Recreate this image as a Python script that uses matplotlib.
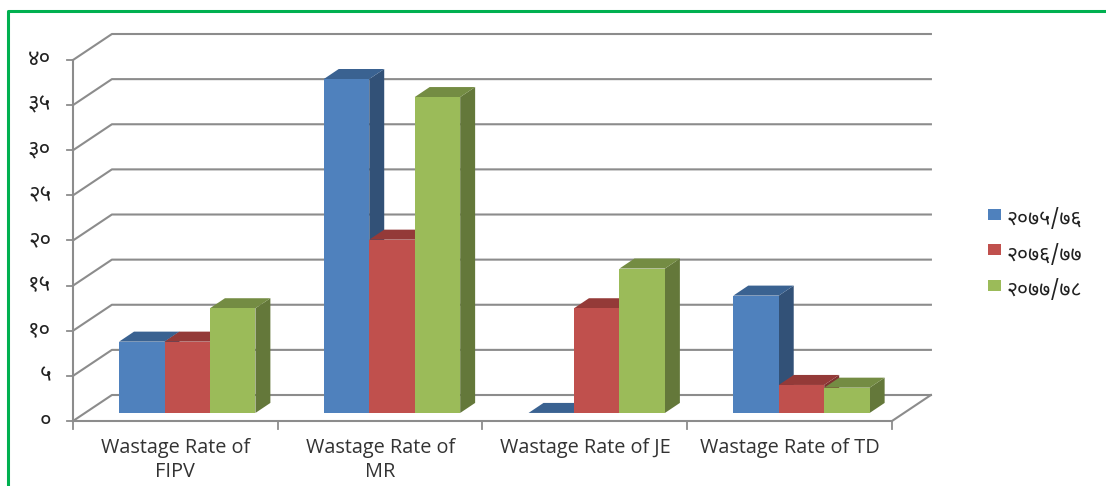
#!/usr/bin/env python3
"""Wastage rate by vaccine, drawn as clustered bars with a 3D look."""

import matplotlib
matplotlib.use('Agg')
import matplotlib.pyplot as plt
from matplotlib.patches import Polygon, Rectangle

categories = ['Wastage Rate of\nFIPV', 'Wastage Rate of\nMR',
              'Wastage Rate of JE', 'Wastage Rate of TD']
series_names = ['२०७५/७६', '२०७६/७७', '२०७७/७८']
values_7576 = [7.9, 37.0, 0.0, 13.0]
values_7677 = [7.9, 19.2, 11.6, 3.1]
values_7778 = [11.6, 35.0, 16.0, 2.8]
y_ticks = [0, 5, 10, 15, 20, 25, 30, 35, 40]
y_tick_labels = ['०', '५', '१०', '१५', '२०', '२५', '३०', '३५', '४०']

FRONT = ['#4F81BD', '#C0504D', '#9BBB59']
TOP = ['#3A6291', '#943A38', '#748C43']
SIDE = ['#325177', '#7E3230', '#64783A']
GRID = '#8C8C8C'
TEXT = '#333333'
DEVANAGARI = ['Noto Sans Devanagari', 'Hind', 'Mukta', 'Poppins', 'DejaVu Sans']

# depth of the floor and of each bar, in data units
WALL_DX, WALL_DY = 0.19, 2.88
BAR_DX, BAR_DY = 0.073, 1.11
BAR_W = 0.222

W, H = 1106, 486
fig = plt.figure(figsize=(W / 100, H / 100), dpi=100)
ax = fig.add_axes([73 / W, 1 - 421 / H, 819 / W, 361 / H])
ax.set_xlim(0, 4)
ax.set_ylim(0, 40)
ax.axis('off')

# back wall gridlines and their slanted floor-to-wall runs
for t in y_ticks:
    ax.plot([0, WALL_DX, 4 + WALL_DX], [t, t + WALL_DY, t + WALL_DY],
            color=GRID, lw=1.5, clip_on=False, zorder=1)
ax.plot([4, 4 + WALL_DX], [0, WALL_DY], color=GRID, lw=1.5, clip_on=False, zorder=1)

# axis lines and tick marks
ax.plot([0, 0], [0, 40], color=GRID, lw=1.5, clip_on=False, zorder=2)
ax.plot([0, 4], [0, 0], color=GRID, lw=1.5, clip_on=False, zorder=2)
for t, lab in zip(y_ticks, y_tick_labels):
    ax.plot([-0.03, 0], [t, t], color=GRID, lw=1.3, clip_on=False)
    ax.text(-0.107, t, lab, ha='right', va='center', fontsize=16, color='#222222',
            family=DEVANAGARI, fontweight='medium')
for i in range(5):
    ax.plot([i, i], [0, -0.9], color=GRID, lw=1.3, clip_on=False)

# bars: front face, then top and side faces pushed back by the bar depth
all_values = [values_7576, values_7677, values_7778]
base = WALL_DY * 0.31
for j in range(4):
    left = j + 0.5 - 1.5 * BAR_W + 0.058
    for k, vals in enumerate(all_values):
        x0 = left + k * BAR_W
        x1 = x0 + BAR_W
        top = vals[j] + base
        z = 3 + k
        ax.add_patch(Polygon([(x1, base), (x1 + BAR_DX, base + BAR_DY),
                              (x1 + BAR_DX, top + BAR_DY), (x1, top)],
                             fc=SIDE[k], ec='none', zorder=z))
        ax.add_patch(Polygon([(x0, top), (x0 + BAR_DX, top + BAR_DY),
                              (x1 + BAR_DX, top + BAR_DY), (x1, top)],
                             fc=TOP[k], ec='none', zorder=z))
        if vals[j] > 0:
            ax.add_patch(Rectangle((x0, base), BAR_W, vals[j],
                                   fc=FRONT[k], ec='none', zorder=z + 0.5))

for i, cat in enumerate(categories):
    ax.text(i + 0.5, -1.9, cat, ha='center', va='top', fontsize=14.3,
            color=TEXT, family='Open Sans', linespacing=1.25)

# legend
for k, name in enumerate(series_names):
    py = 215 + k * 35.5
    fig.patches.append(Rectangle((988 / W, 1 - (py + 5) / H), 13 / W, 11 / H,
                                 transform=fig.transFigure, fc=FRONT[k], ec='none'))
    fig.text(1007 / W, 1 - (py + 4) / H, name, ha='left', va='center',
             fontsize=15.4, color='#222222', family=DEVANAGARI, fontweight='medium')

# green frame, only the top and left edges are inside the canvas
fig.add_artist(plt.Line2D([8 / W, 8 / W, 1], [0, 1 - 11.5 / H, 1 - 11.5 / H],
                          color='#00B050', lw=2.2, transform=fig.transFigure))

fig.savefig('out.png', dpi=100)
